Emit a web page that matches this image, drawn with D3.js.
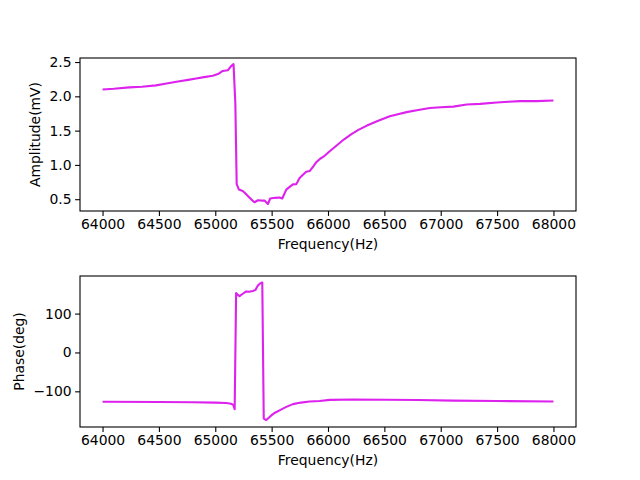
<!DOCTYPE html>
<html><head><meta charset="utf-8">
<script src="https://cdn.jsdelivr.net/npm/d3@7"></script>
<style>body{margin:0;background:#fff}svg{display:block}text{font-family:"DejaVu Sans",sans-serif}</style>
</head><body>
<svg id="c" width="640" height="480"></svg>
<script>
const ampFreq = [64000,64100,64237,64350,64474,64580,64682,64760,64830,64900,64978,65030,65067,65111,65141,65162,65178,65190,65210,65244,65270,65300,65330,65348,65378,65410,65437,65467,65487,65530,65570,65594,65630,65660,65689,65719,65748,65780,65807,65837,65870,65896,65930,65960,66015,66074,66140,66208,66270,66341,66440,66548,66620,66697,66800,66904,67000,67111,67230,67350,67497,67600,67704,67850,68000];
const ampVals = [2.10,2.11,2.13,2.14,2.16,2.19,2.22,2.24,2.26,2.28,2.30,2.33,2.37,2.38,2.44,2.47,1.90,0.72,0.64,0.62,0.58,0.53,0.48,0.455,0.485,0.48,0.48,0.43,0.51,0.52,0.525,0.51,0.64,0.68,0.716,0.72,0.81,0.86,0.90,0.91,0.98,1.04,1.09,1.12,1.20,1.28,1.37,1.45,1.51,1.57,1.64,1.71,1.74,1.77,1.80,1.83,1.84,1.85,1.88,1.89,1.91,1.92,1.93,1.93,1.94];
const phFreq = [64000,64500,64800,65000,65097,65140,65160,65172,65185,65200,65215,65244,65274,65300,65333,65357,65378,65395,65417,65430,65452,65475,65497,65530,65570,65630,65689,65760,65837,65926,66015,66222,66519,66800,67111,67500,68000];
const phVals = [-127,-127.5,-128,-129,-130,-132,-135,-146,153,148,145,151,157,156,158,161,172,177,180,-170,-174,-168,-162,-155,-149,-140,-133,-129,-126,-125,-122,-121,-121.5,-122.5,-124,-125,-126];
const xTicks = [64000,64500,65000,65500,66000,66500,67000,67500,68000];
const ampTicks = [0.5,1.0,1.5,2.0,2.5];
const phTicks = [-100,0,100];
const lineColor = "#dd22ee";

const svg = d3.select("#c");
const L = 80, R = 576;
function panel(top, bottom, fx, fy, yDomain, yTicks, yFmt, yLabel, yLabelX) {
  const x = d3.scaleLinear().domain([63800, 68200]).range([L, R]);
  const y = d3.scaleLinear().domain(yDomain).range([bottom, top]);
  const g = svg.append("g");
  const data = fx.map((f, i) => [f, fy[i]]);
  g.append("path").datum(data)
    .attr("d", d3.line().x(d => x(d[0])).y(d => y(d[1])))
    .attr("fill", "none").attr("stroke", lineColor).attr("stroke-width", 2.1)
    .attr("stroke-linejoin", "round").attr("stroke-linecap", "butt");
  const xa = g.append("g").attr("transform", `translate(0,${bottom})`)
    .call(d3.axisBottom(x).tickValues(xTicks).tickFormat(d3.format("d")).tickSize(4.9).tickPadding(3.5));
  const ya = g.append("g").attr("transform", `translate(${L},0)`)
    .call(d3.axisLeft(y).tickValues(yTicks).tickFormat(yFmt).tickSize(4.9).tickPadding(3.5));
  [xa, ya].forEach(a => {
    a.select(".domain").remove();
    a.selectAll("line").attr("stroke", "#000").attr("stroke-width", 1.1);
    a.selectAll("text").attr("font-size", 13.9).attr("fill", "#000").attr("font-family", "DejaVu Sans");
  });
  g.append("rect").attr("x", L).attr("y", top).attr("width", R - L).attr("height", bottom - top)
    .attr("fill", "none").attr("stroke", "#000").attr("stroke-width", 1.1);
  g.append("text").attr("x", (L + R) / 2).attr("y", bottom + 38).attr("text-anchor", "middle")
    .attr("font-size", 13.9).text("Frequency(Hz)");
  g.append("text").attr("transform", `translate(${yLabelX},${(top + bottom) / 2}) rotate(-90)`)
    .attr("text-anchor", "middle").attr("font-size", 13.9).text(yLabel);
}
panel(58, 211, ampFreq, ampVals, [0.328, 2.559], ampTicks, d3.format(".1f"), "Amplitude(mV)", 40);
panel(276, 427, phFreq, phVals, [-191.8, 196.7], phTicks, d => d < 0 ? "\u2212" + Math.abs(d) : String(d), "Phase(deg)", 24);
</script>
</body></html>
